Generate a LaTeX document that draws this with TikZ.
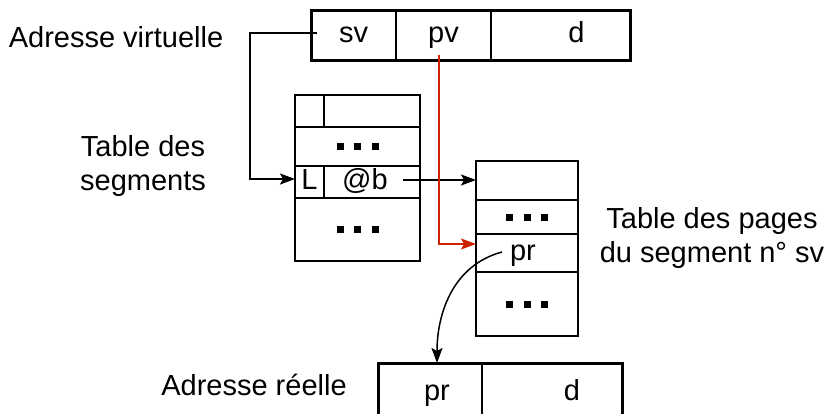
\documentclass[tikz,border=0pt]{standalone}
\usepackage{fontspec}
\setmainfont{Liberation Sans}
\usetikzlibrary{arrows.meta,positioning,calc}
\definecolor{ptrred}{RGB}{204,34,0}
\newcommand{\tdots}{\rule{7pt}{7pt}\hspace{10.5pt}\rule{7pt}{7pt}\hspace{10.5pt}\rule{7pt}{7pt}}

\begin{document}
\begin{tikzpicture}[x=1pt, y=-1pt, font=\fontsize{29}{33.5}\selectfont,
  >={Stealth[length=15pt,width=11pt,inset=3pt]},
  cell/.style={draw, line width=2pt, inner sep=0pt, outer sep=0pt, anchor=north west},
  celltext/.style={cell, text height=21pt, text depth=6pt},
  link/.style={->, line width=1.5pt}]
\useasboundingbox (0,0) rectangle (827,413);
\clip (0,0) rectangle (827,413);
% virtual address
\node[celltext, minimum width=85pt, minimum height=50pt] (vsv) at (311,10) {sv};
\node[celltext, minimum width=95pt, minimum height=50pt] (vpv) at (396,10) {pv};
\node[celltext, minimum width=139pt, minimum height=50pt] (vd) at (491,10) {\hspace*{32pt}d};
\draw[line width=3pt] (vsv.north west) rectangle (vd.south east);
% segment table
\node[cell, minimum width=29pt, minimum height=32pt] (s1l) at (295,95) {};
\node[cell, minimum width=96pt, minimum height=32pt] (s1r) at (324,95) {};
\node[cell, minimum width=125pt, minimum height=39pt] (s2) at (295,127) {\tdots};
\node[celltext, minimum width=29pt, minimum height=32pt] (s3l) at (295,166) {L};
\node[celltext, minimum width=96pt, minimum height=32pt] (s3r) at (324,166) {@b\hspace*{14pt}};
\node[cell, minimum width=125pt, minimum height=63pt] (s4) at (295,198) {\tdots};
% page table
\foreach \n/\y/\h/\t in {p1/161/39/{}, p2/200/34/\tdots, p4/272/64/\tdots}{
  \node[cell, minimum width=102pt, minimum height=\h pt] (\n) at (476,\y) {\t};
}
\node[celltext, minimum width=102pt, minimum height=38pt] (p3) at (476,234) {pr\hspace*{8pt}};
% real address
\node[celltext, minimum width=104pt, minimum height=60pt] (rpr) at (378,363) {\hspace*{14pt}pr};
\node[celltext, minimum width=140pt, minimum height=60pt] (rd) at (482,363) {\hspace*{40pt}d};
\draw[line width=3pt] (rpr.north west) rectangle (rd.south east);
% labels
\node (lva) at (116,37) {Adresse virtuelle};
\node[align=center] (lts) at (143,166) {Table des\\segments};
\node[align=center] (ltp) at (712,238) {Table des pages\\du segment n° sv};
\node (lra) at (254,385) {Adresse réelle};
% links
\draw[link] ([xshift=6pt,yshift=2pt]vsv.west) -- ++(-67,0) |- ([yshift=3pt]s3l.west);
\draw[link] ([xshift=-17pt,yshift=2pt]s3r.east) -- ([yshift=2pt]s3r.east -| p1.west);
\draw[link, ptrred] ([xshift=-4.5pt,yshift=5pt]vpv.south) |- ([yshift=9pt]p3.west);
\draw[link] ([xshift=-25pt,yshift=1pt]p3.center) to[out=195, in=90] ([xshift=7pt]rpr.north);
\end{tikzpicture}
\end{document}
